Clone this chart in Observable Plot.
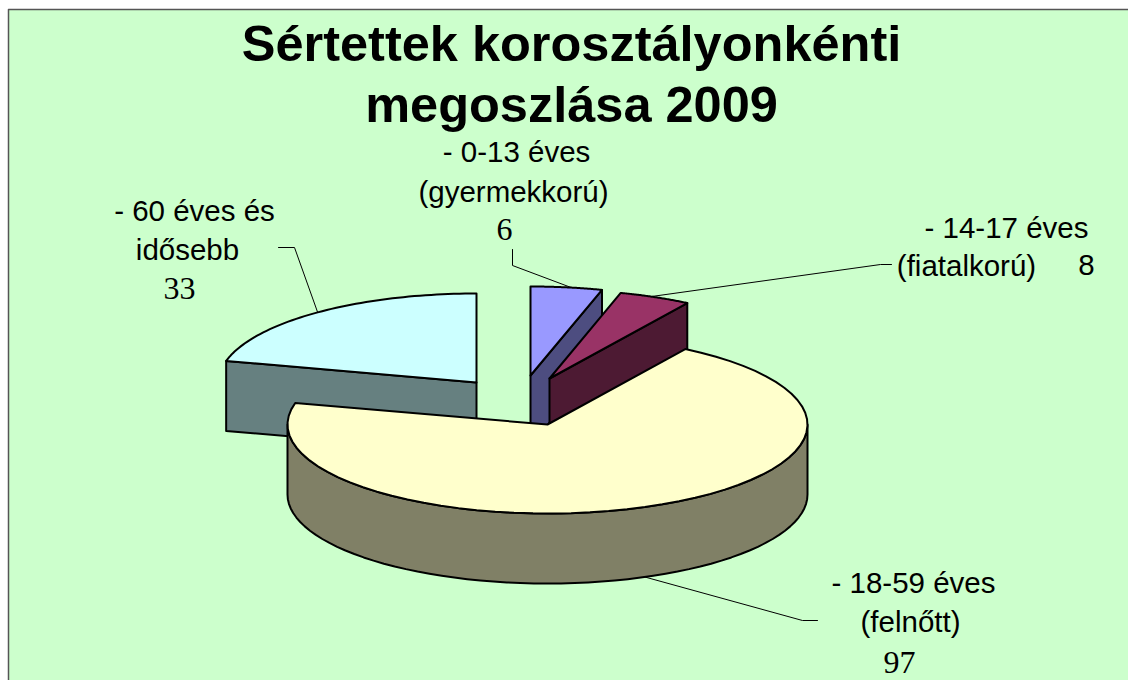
<!DOCTYPE html>
<html><head><meta charset="utf-8">
<script src="https://cdn.jsdelivr.net/npm/d3@7"></script>
<script src="https://cdn.jsdelivr.net/npm/@observablehq/plot@0.6"></script>
<style>html,body{margin:0;padding:0;background:#fff}svg{display:block}</style>
</head><body><div id="chart"></div>
<script>
const titleLines = ["Sértettek korosztályonkénti", "megoszlása 2009"];
const categories = ["- 0-13 éves\n(gyermekkorú)", "- 14-17 éves\n(fiatalkorú)", "- 18-59 éves\n(felnőtt)", "- 60 éves és\nidősebb"];
const values = [6, 8, 97, 33];

const topColors = ["#9999FF", "#993366", "#FFFFCC", "#CCFFFF"];
const sideColors = ["#4D4D80", "#4D1A33", "#808066", "#668080"];
const apexes = [[530,375],[549,378],[547,424],[476,382]];
const angleNudge = [0, 0.9, -3, 6.5, 0];
const radiiX = [261, 260, 260, 258];
const ry = 89, depth = 70;

const total = d3.sum(values);
const cum = [0, ...d3.cumsum(values)];
const bounds = cum.map((c, i) => c / total * 360 + angleNudge[i]);
const rad = a => a * Math.PI / 180;
const rimPt = (i, a, dy = 0) => ({x: apexes[i][0] + radiiX[i] * Math.sin(rad(a)), y: apexes[i][1] - ry * Math.cos(rad(a)) + dy});
const arc = (i, a0, a1, dy = 0) => d3.range(0, 61).map(k => rimPt(i, a0 + (a1 - a0) * k / 60, dy));
const apex = (i, dy = 0) => ({x: apexes[i][0], y: apexes[i][1] + dy});

const topFace = i => [apex(i), ...arc(i, bounds[i], bounds[i+1]), apex(i)];
const radialFace = (i, a) => [apex(i), rimPt(i, a), rimPt(i, a, depth), apex(i, depth), apex(i)];
const rimFace = (i, a0, a1) => { const A = arc(i, a0, a1); return [...A, ...arc(i, a1, a0, depth), A[0]]; };
const poly = (pts, fill) => Plot.line(pts, {x: "x", y: "y", fill, stroke: "#000", strokeWidth: 2, strokeLinejoin: "round", curve: "linear"});

const faces = [
  poly(radialFace(3, bounds[3]), sideColors[3]),
  poly(topFace(3), topColors[3]),
  poly(radialFace(0, bounds[1]), sideColors[0]),
  poly(topFace(0), topColors[0]),
  poly(radialFace(1, bounds[2]), sideColors[1]),
  poly(topFace(1), topColors[1]),
  poly(rimFace(2, 90, 270), sideColors[2]),
  poly(topFace(2), topColors[2])
];

const leaders = [
  [{x:512,y:249},{x:512,y:265},rimPt(0, 9)],
  [{x:891,y:264},{x:880,y:264},rimPt(1, 23)],
  [{x:817,y:620},{x:802,y:620},rimPt(2, 158, depth)],
  [{x:278,y:247},{x:294,y:247},rimPt(3, 322)]
];
const lineX = [[516,513],[1006,966],[913,910],[194,187]];
const lineY = [[152,192],[228,266],[583,622],[211,250]];
const labelLines = categories.flatMap((c,i) => c.split("\n").map((t,j) => ({t, x: lineX[i][j], y: lineY[i][j]})));
const numberPos = [[504,229],[1086,265],[899,662],[179,288]];
const numberFonts = ["Liberation Serif","Liberation Sans","Liberation Serif","Liberation Serif"];
const numberSizes = [32,29.5,32,32];

const chart = Plot.plot({
  width: 1128, height: 680, margin: 0,
  x: {domain: [0,1128], range: [0,1128], axis: null},
  y: {domain: [0,680], range: [0,680], axis: null},
  style: {background: "#fff"},
  marks: [
    Plot.line([{x:8,y:9},{x:1140,y:9},{x:1140,y:700},{x:8,y:700},{x:8,y:9}], {x:"x",y:"y",fill:"#CCFFCC",stroke:"#555",strokeWidth:1.5,clip:true}),
    ...leaders.map(L => Plot.line(L, {x:"x",y:"y",stroke:"#000",strokeWidth:1})),
    ...faces,
    Plot.text(titleLines, {x: () => 571, y: (d,i) => [44,105][i], text: d => d, fontFamily: "Liberation Sans", fontWeight: "bold", fontSize: 50.5, fill: "#000", textAnchor: "middle", lineAnchor: "middle"}),
    Plot.text(labelLines, {x: "x", y: "y", text: "t", fontFamily: "Liberation Sans", fontSize: 29.5, fill: "#000", textAnchor: "middle", lineAnchor: "middle"}),
    ...values.map((v,i) => Plot.text([v], {x: () => numberPos[i][0], y: () => numberPos[i][1], text: d => String(d), fontFamily: numberFonts[i], fontSize: numberSizes[i], fill: "#000", textAnchor: "middle", lineAnchor:"middle"}))
  ]
});
document.getElementById("chart").append(chart);
</script></body></html>
